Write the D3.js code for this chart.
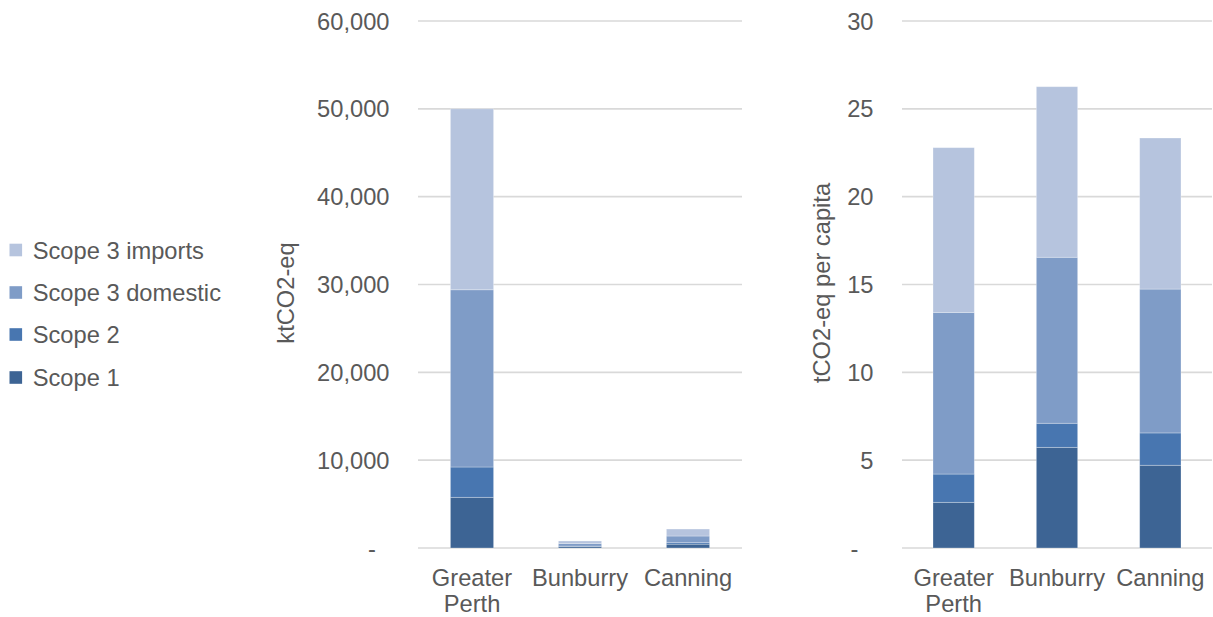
<!DOCTYPE html>
<html>
<head>
<meta charset="utf-8">
<script src="https://cdn.jsdelivr.net/npm/d3@7"></script>
<style>
  html, body { margin: 0; padding: 0; background: #fff; }
  svg text { font-family: "Liberation Sans", Arial, sans-serif; fill: #595959; }
</style>
</head>
<body>
<svg id="chart" width="1213" height="617"></svg>
<script>
// ---- Data ----
const categories = ["Greater Perth", "Bunburry", "Canning"];
const seriesNames = ["Scope 1", "Scope 2", "Scope 3 domestic", "Scope 3 imports"];
const seriesColors = ["#3d6494", "#4876b0", "#7f9cc7", "#b6c4de"];

// Total emissions, ktCO2-eq
const totalScope1 = [5770, 175, 436];
const totalScope2 = [3450, 42, 170];
const totalScope3Domestic = [20180, 288, 758];
const totalScope3Imports = [20600, 295, 796];

// Per capita emissions, tCO2-eq per capita
const capScope1 = [2.6, 5.73, 4.71];
const capScope2 = [1.61, 1.37, 1.84];
const capScope3Domestic = [9.2, 9.45, 8.19];
const capScope3Imports = [9.38, 9.71, 8.6];

const leftTicks = [0, 10000, 20000, 30000, 40000, 50000, 60000];
const leftTickLabels = ["-", "10,000", "20,000", "30,000", "40,000", "50,000", "60,000"];
const rightTicks = [0, 5, 10, 15, 20, 25, 30];
const rightTickLabels = ["-", "5", "10", "15", "20", "25", "30"];

const leftTitle = "ktCO2-eq";
const rightTitle = "tCO2-eq per capita";

// ---- Drawing ----
const svg = d3.select("#chart");
const FS = 23.7;

function buildRows(s1, s2, s3d, s3i) {
  return categories.map((c, i) => ({
    cat: c,
    "Scope 1": s1[i], "Scope 2": s2[i],
    "Scope 3 domestic": s3d[i], "Scope 3 imports": s3i[i]
  }));
}

function drawPanel(opts) {
  const { rows, x0, x1, yTop, yBot, max, ticks, tickLabels, labelRight, dashRight, title, titleX, titleY } = opts;
  const x = d3.scaleBand().domain(categories).range([x0, x1]).paddingInner(0.6).paddingOuter(0.3);
  const y = d3.scaleLinear().domain([0, max]).range([yBot, yTop]);
  const g = svg.append("g");

  // gridlines
  g.selectAll("line.grid").data(ticks).join("line")
    .attr("x1", x0).attr("x2", x1)
    .attr("y1", d => y(d)).attr("y2", d => y(d))
    .attr("stroke", "#d9d9d9").attr("stroke-width", 1.6);

  // tick labels
  g.selectAll("text.tick").data(ticks).join("text")
    .attr("x", (d, i) => i === 0 ? dashRight : labelRight)
    .attr("y", d => y(d))
    .attr("dy", "0.36em")
    .attr("text-anchor", "end")
    .style("font-size", FS + "px")
    .text((d, i) => tickLabels[i]);

  // bars
  const stacked = d3.stack().keys(seriesNames)(rows);
  g.selectAll("g.series").data(stacked).join("g")
    .attr("fill", (d, i) => seriesColors[i])
    .selectAll("rect").data(d => d).join("rect")
    .attr("x", d => x(d.data.cat))
    .attr("width", x.bandwidth())
    .attr("y", d => y(d[1]))
    .attr("height", d => Math.max(0, y(d[0]) - y(d[1])))
    .attr("stroke", "rgba(255,255,255,0.35)")
    .attr("stroke-width", 0.8);

  // category labels
  categories.forEach(c => {
    const words = c.split(" ");
    const t = g.append("text")
      .attr("x", x(c) + x.bandwidth() / 2)
      .attr("y", 585.7)
      .attr("text-anchor", "middle")
      .style("font-size", FS + "px");
    words.forEach((w, i) => {
      t.append("tspan").attr("x", x(c) + x.bandwidth() / 2)
        .attr("y", 585.7 + i * 26).text(w);
    });
  });

  // axis title
  g.append("text")
    .attr("transform", `translate(${titleX},${titleY}) rotate(-90)`)
    .attr("text-anchor", "middle")
    .style("font-size", FS + "px")
    .text(title);
}

drawPanel({
  rows: buildRows(totalScope1, totalScope2, totalScope3Domestic, totalScope3Imports),
  x0: 418, x1: 742, yTop: 21, yBot: 548, max: 60000,
  ticks: leftTicks, tickLabels: leftTickLabels,
  labelRight: 389.5, dashRight: 376,
  title: leftTitle, titleX: 294, titleY: 293
});

drawPanel({
  rows: buildRows(capScope1, capScope2, capScope3Domestic, capScope3Imports),
  x0: 902, x1: 1212, yTop: 21, yBot: 548, max: 30,
  ticks: rightTicks, tickLabels: rightTickLabels,
  labelRight: 873.5, dashRight: 858.5,
  title: rightTitle, titleX: 829.5, titleY: 283
});

// legend (top to bottom: imports, domestic, scope 2, scope 1)
const legendOrder = [3, 2, 1, 0];
const legendY = [250, 292.5, 334.5, 377.5];
const lg = svg.append("g");
legendOrder.forEach((si, i) => {
  lg.append("rect")
    .attr("x", 9.5).attr("y", legendY[i] - 6.3)
    .attr("width", 12.6).attr("height", 12.6)
    .attr("fill", seriesColors[si]);
  lg.append("text")
    .attr("x", 32.7).attr("y", legendY[i])
    .attr("dy", "0.36em")
    .style("font-size", FS + "px")
    .text(seriesNames[si]);
});
</script>
</body>
</html>
